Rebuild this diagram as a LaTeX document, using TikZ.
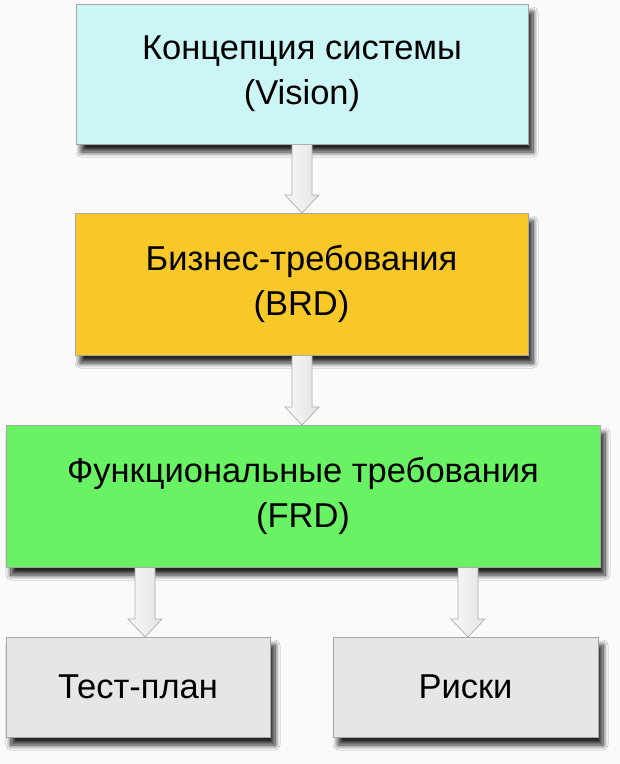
\documentclass[tikz,border=0pt]{standalone}
\usepackage{fontspec}
\setmainfont{Liberation Sans}
\usetikzlibrary{calc,shadows.blur}
\definecolor{cvis}{RGB}{204,246,246}
\definecolor{cbrd}{RGB}{247,200,40}
\definecolor{cfrd}{RGB}{104,242,100}
\definecolor{cgry}{RGB}{230,230,230}
\definecolor{cbg}{RGB}{250,250,250}
\tikzset{
  box/.style={draw=gray!70, line width=0.8pt, inner sep=0pt, align=center,
    font=\fontsize{34.5}{45}\selectfont,
    blur shadow={shadow xshift=5pt, shadow yshift=-8pt, shadow blur radius=5pt, shadow blur steps=10, shadow opacity=85}},
  blockarr/.style={draw=gray!65, line width=0.7pt, left color=gray!5, right color=gray!22}
}
\newcommand\blockarrow[2]{%
  \path[blockarr] let \p1=(#1), \p2=(#2) in
    (\x2-10pt,\y1) -- (\x2+10pt,\y1) -- (\x2+10pt,\y2+18pt) -- (\x2+17pt,\y2+18pt)
    -- (\x2,\y2) -- (\x2-17pt,\y2+18pt) -- (\x2-10pt,\y2+18pt) -- cycle;}
\begin{document}
\begin{tikzpicture}[x=1pt,y=1pt]
\fill[cbg] (0,0) rectangle (620,-764);
\useasboundingbox (0,0) rectangle (620,-764);
\node[box, fill=cvis, minimum width=452, minimum height=140] (vis) at (302,-74) {Концепция системы\\(Vision)};
\node[box, fill=cbrd, minimum width=453, minimum height=142] (brd) at (301.5,-284) {Бизнес-требования\\(BRD)};
\node[box, fill=cfrd, minimum width=594, minimum height=142] (frd) at (303,-496) {Функциональные требования\\(FRD)};
\node[box, fill=cgry, minimum width=264, minimum height=100] (tp) at (138,-687) {Тест-план};
\node[box, fill=cgry, minimum width=265, minimum height=100] (rk) at (465.5,-687) {Риски};
\coordinate (t1) at (302,-213);
\coordinate (t2) at (302,-425);
\coordinate (t3) at (145,-637);
\coordinate (t4) at (468,-637);
\blockarrow{vis.south}{t1}
\blockarrow{brd.south}{t2}
\blockarrow{frd.south}{t3}
\blockarrow{frd.south}{t4}
\end{tikzpicture}
\end{document}
